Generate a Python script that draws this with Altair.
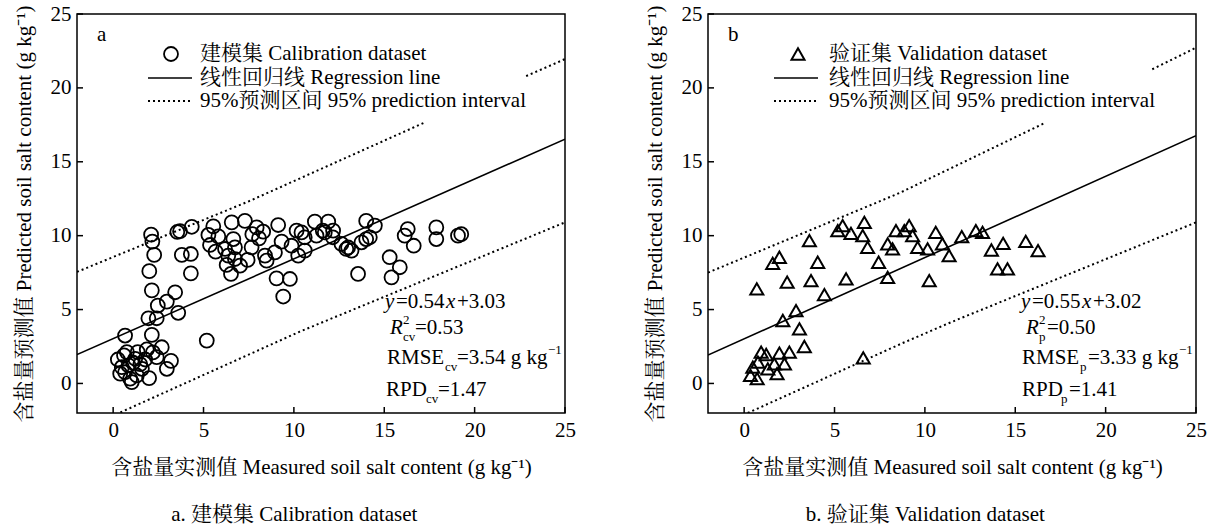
import altair as alt
import pandas as pd

FONT = "Liberation Serif, Noto Serif CJK SC, Noto Sans CJK SC, serif"

# ---------------- data ----------------
cal_x = [2.1, 2.17, 2.27, 2.0, 2.14, 3.55, 3.7, 4.35, 3.8, 4.3, 4.3, 3.43, 2.97, 2.47, 3.6, 1.95, 2.41, 0.66, 2.14, 5.18,
         2.69, 1.86, 1.36, 0.76, 3.2, 2.97, 2.41, 1.77, 1.22, 0.26, 0.48, 0.85, 1.59, 0.39, 0.94, 1.31, 1.99, 0.66, 1.03, 1.1, 0.6, 2.2, 1.5,
         5.54, 5.27, 5.82, 5.36, 5.67, 6.19, 6.56, 7.29, 6.65, 6.74, 6.37, 6.74, 6.28, 6.52, 7.02, 7.44, 7.66, 7.94, 8.07, 8.3,
         8.4, 8.49, 8.95, 9.04, 9.78, 9.41, 9.13, 9.32, 9.87, 10.15, 10.6, 10.24, 10.6, 11.16, 11.25, 11.9, 11.71, 12.15, 10.42, 7.7,
         12.17, 11.6, 12.63, 12.9, 13.19, 13.0, 13.74, 14.0, 14.2, 14.0, 14.48, 13.55, 15.3, 15.86, 15.4, 16.13, 16.3, 16.63,
         17.88, 17.88, 19.08, 19.26]
cal_y = [10.07, 9.6, 8.7, 7.6, 6.3, 10.25, 10.3, 10.6, 8.7, 8.76, 7.45, 6.17, 5.54, 5.27, 4.78, 4.41, 4.41, 3.24, 3.29, 2.9,
         2.45, 2.3, 2.12, 2.12, 1.53, 0.99, 1.78, 1.62, 1.67, 1.62, 1.1, 1.22, 0.99, 0.66, 0.32, 0.54, 0.36, 0.76, 0.09, 1.4, 1.9, 2.1, 1.3,
         10.63, 10.05, 9.95, 9.37, 8.92, 9.1, 10.9, 11.0, 9.77, 9.21, 8.65, 8.42, 8.02, 7.41, 7.97, 8.36, 9.21, 10.56, 9.82, 10.27,
         8.65, 8.31, 8.87, 7.11, 7.07, 5.88, 10.72, 9.6, 9.32, 10.34, 9.89, 8.65, 8.99, 10.95, 10.0, 10.95, 10.22, 9.89, 10.22, 10.1,
         10.34, 10.34, 9.44, 9.1, 8.99, 9.2, 9.55, 9.77, 9.89, 11.0, 10.68, 7.41, 8.54, 7.86, 7.18, 10.0, 10.45, 9.32,
         10.56, 9.77, 10.0, 10.1]

val_x = [5.45, 5.18, 5.91, 6.65, 6.56, 6.83, 7.44, 7.94, 5.64, 8.4, 8.86, 9.13, 9.32, 7.94, 8.21, 9.6, 10.15, 10.24, 10.6,
         10.97, 11.34, 3.61, 4.07, 3.7, 4.44, 1.95, 1.58, 2.38, 0.7, 2.87, 2.14, 3.06, 3.33, 2.5, 1.95, 1.22, 0.94, 0.76,
         0.48, 1.31, 1.67, 2.23, 0.35, 0.72, 1.82, 6.59, 12.04, 12.82, 13.19, 13.68, 14.33, 14.02, 14.57, 15.58, 16.26]
val_y = [10.68, 10.34, 10.16, 10.9, 10.0, 9.21, 8.2, 7.18, 7.07, 10.34, 10.34, 10.68, 10.0, 9.44, 9.1, 9.21, 9.1, 6.96, 10.22,
         9.44, 8.65, 9.66, 8.2, 6.96, 6.01, 8.54, 8.13, 6.85, 6.4, 4.93, 4.26, 3.69, 2.5, 2.12, 2.05, 1.96, 2.12, 1.44,
         1.1, 0.99, 1.33, 1.33, 0.54, 0.32, 0.66, 1.73, 9.93, 10.34, 10.22, 9.03, 9.48, 7.75, 7.75, 9.62, 8.99]

# regression lines (end points)
reg_a_x = [-2, 25]
reg_a_y = [1.95, 16.53]
reg_b_x = [-2, 25]
reg_b_y = [1.92, 16.77]

# 95% prediction interval, split where the legend hides it
pi_a = {
    "up1": ([-2, 6.92, 7.57, 17.24], [7.55, 12.03, 12.36, 17.66]),
    "up2": ([22.85, 25], [20.8, 21.95]),
    "low": ([0.4, 10.33, 25], [-1.96, 3.51, 10.9]),
}
pi_b = {
    "up1": ([-2, 7.57, 8.67, 16.69], [7.5, 12.36, 12.93, 17.66]),
    "up2": ([22.58, 25], [21.26, 22.72]),
    "low": ([0.2, 8.67, 11.44, 25], [-2.0, 2.68, 4.14, 10.9]),
}

tick_values = [0, 5, 10, 15, 20, 25]
x_title = "含盐量实测值 Measured soil salt content (g kg⁻¹)"
y_title = "含盐量预测值 Predicted soil salt content (g kg⁻¹)"

legend_a = ["建模集 Calibration dataset", "线性回归线 Regression line", "95%预测区间 95% prediction interval"]
legend_b = ["验证集 Validation dataset", "线性回归线 Regression line", "95%预测区间 95% prediction interval"]

# annotation pieces: (row, x-position in plot px, text, kind)
ann_a = [
    (0, 308, "y", "i"), (0, 319, "=0.54", "n"), (0, 369, "x", "i"), (0, 380, "+3.03", "n"),
    (1, 313, "R", "i"), (1, 326, "2", "sup"), (1, 326, "cv", "sub"), (1, 338, "=0.53", "n"),
    (2, 310, "RMSE", "n"), (2, 368, "cv", "sub"), (2, 380, "=3.54 g kg", "n"), (2, 471, "−1", "sup"),
    (3, 309, "RPD", "n"), (3, 349, "cv", "sub"), (3, 361, "=1.47", "n"),
]
ann_b = [
    (0, 313, "y", "i"), (0, 324, "=0.55", "n"), (0, 374, "x", "i"), (0, 385, "+3.02", "n"),
    (1, 318, "R", "i"), (1, 331, "2", "sup"), (1, 331, "p", "sub"), (1, 339, "=0.50", "n"),
    (2, 314, "RMSE", "n"), (2, 372, "p", "sub"), (2, 380, "=3.33 g kg", "n"), (2, 471, "−1", "sup"),
    (3, 314, "RPD", "n"), (3, 353, "p", "sub"), (3, 361, "=1.41", "n"),
]

W, H = 488, 399
ROW_Y = [288, 314, 344, 376]
ONE = pd.DataFrame({"a": [0]})


def ptext(x, y, t, size=21, italic=False):
    return alt.Chart(ONE).mark_text(
        align="left", baseline="middle", fontSize=size, font=FONT, color="black",
        fontStyle="italic" if italic else "normal", text=t,
    ).encode(x=alt.value(x), y=alt.value(y))


def panel(px, py, shape, size, sw, reg_x, reg_y, pi, legend, sym_x, text_x, line_x0, line_x1, ann, letter, caption):
    xs = alt.Scale(domain=[-2, 25], nice=False, zero=False)
    ys = alt.Scale(domain=[-2, 25], nice=False, zero=False)
    xax = alt.Axis(values=tick_values, title=x_title, ticks=False, domain=False, grid=False,
                   labelPadding=6, titlePadding=16, labelFlush=False)
    yax = alt.Axis(values=tick_values, title=y_title, ticks=False, domain=False, grid=False,
                   labelPadding=6, titlePadding=16, labelFlush=False)

    def X(f):
        return alt.X(f, scale=xs, axis=xax)

    def Y(f):
        return alt.Y(f, scale=ys, axis=yax)

    pts = pd.DataFrame({"x": px, "y": py})
    scatter = alt.Chart(pts).mark_point(shape=shape, size=size, filled=False, color="black",
                                        strokeWidth=sw, opacity=1).encode(x=X("x:Q"), y=Y("y:Q"))

    rows = []
    for k, (xx, yy) in pi.items():
        for a, b in zip(xx, yy):
            rows.append({"x": a, "y": b, "seg": k})
    pidf = pd.DataFrame(rows)
    pil = alt.Chart(pidf).mark_line(color="black", strokeWidth=2, strokeDash=[2, 3], clip=True).encode(
        x=X("x:Q"), y=Y("y:Q"), detail="seg:N")

    regdf = pd.DataFrame({"x": reg_x, "y": reg_y})
    regl = alt.Chart(regdf).mark_line(color="black", strokeWidth=1.6, clip=True).encode(
        x=X("x:Q"), y=Y("y:Q"))

    tdf = pd.DataFrame({"x": tick_values, "y": tick_values})
    xt = alt.Chart(tdf).mark_rule(color="black", strokeWidth=1.5).encode(
        x=X("x:Q"), y=alt.value(H), y2=alt.value(H - 6))
    yt = alt.Chart(tdf).mark_rule(color="black", strokeWidth=1.5).encode(
        y=Y("y:Q"), x=alt.value(0), x2=alt.value(6))

    leg_sym = alt.Chart(ONE).mark_point(shape=shape, size=size, filled=False, color="black",
                                        strokeWidth=sw, opacity=1).encode(
        x=alt.value(sym_x), y=alt.value(40))
    leg_line = alt.Chart(ONE).mark_rule(color="black", strokeWidth=1.6).encode(
        x=alt.value(line_x0), x2=alt.value(line_x1), y=alt.value(64))
    leg_dot = alt.Chart(ONE).mark_rule(color="black", strokeWidth=2, strokeDash=[2, 3]).encode(
        x=alt.value(line_x0), x2=alt.value(line_x1), y=alt.value(87))
    leg_txt = [ptext(text_x, 40, legend[0]), ptext(text_x, 64, legend[1]), ptext(text_x, 87, legend[2])]

    letter_t = ptext(20, 21, letter)

    ann_layers = []
    for r, x, t, k in ann:
        if k == "n":
            ann_layers.append(ptext(x, ROW_Y[r], t))
        elif k == "i":
            ann_layers.append(ptext(x, ROW_Y[r], t, italic=True))
        elif k == "sup":
            ann_layers.append(ptext(x, ROW_Y[r] - 8, t, size=13))
        else:
            ann_layers.append(ptext(x, ROW_Y[r] + 9, t, size=13))

    return alt.layer(scatter, pil, regl, xt, yt, leg_sym, leg_line, leg_dot, *leg_txt, letter_t,
                     *ann_layers).properties(
        width=W, height=H,
        title=alt.TitleParams(caption, orient="bottom", anchor="middle", frame="bounds", offset=27,
                              fontSize=21, font=FONT, fontWeight="normal", color="black"),
    )


pa = panel(cal_x, cal_y, "circle", 195, 1.8, reg_a_x, reg_a_y, pi_a, legend_a,
           94, 123, 71, 115, ann_a, "a", "a. 建模集 Calibration dataset")
pb = panel(val_x, val_y, "triangle-up", 170, 2.0, reg_b_x, reg_b_y, pi_b, legend_b,
           90, 121, 66, 110, ann_b, "b", "b. 验证集 Validation dataset")

chart = alt.hconcat(pa, pb, spacing=66).properties(
    padding={"left": 12, "top": 2, "right": 0, "bottom": 0},
    background="white",
).configure_view(stroke="black", strokeWidth=1.5).configure_axis(
    labelFont=FONT, titleFont=FONT, labelFontSize=21, titleFontSize=21,
    labelColor="black", titleColor="black", titleFontWeight="normal",
)

chart.save("out.html", embed_options={"renderer": "svg", "actions": False})
